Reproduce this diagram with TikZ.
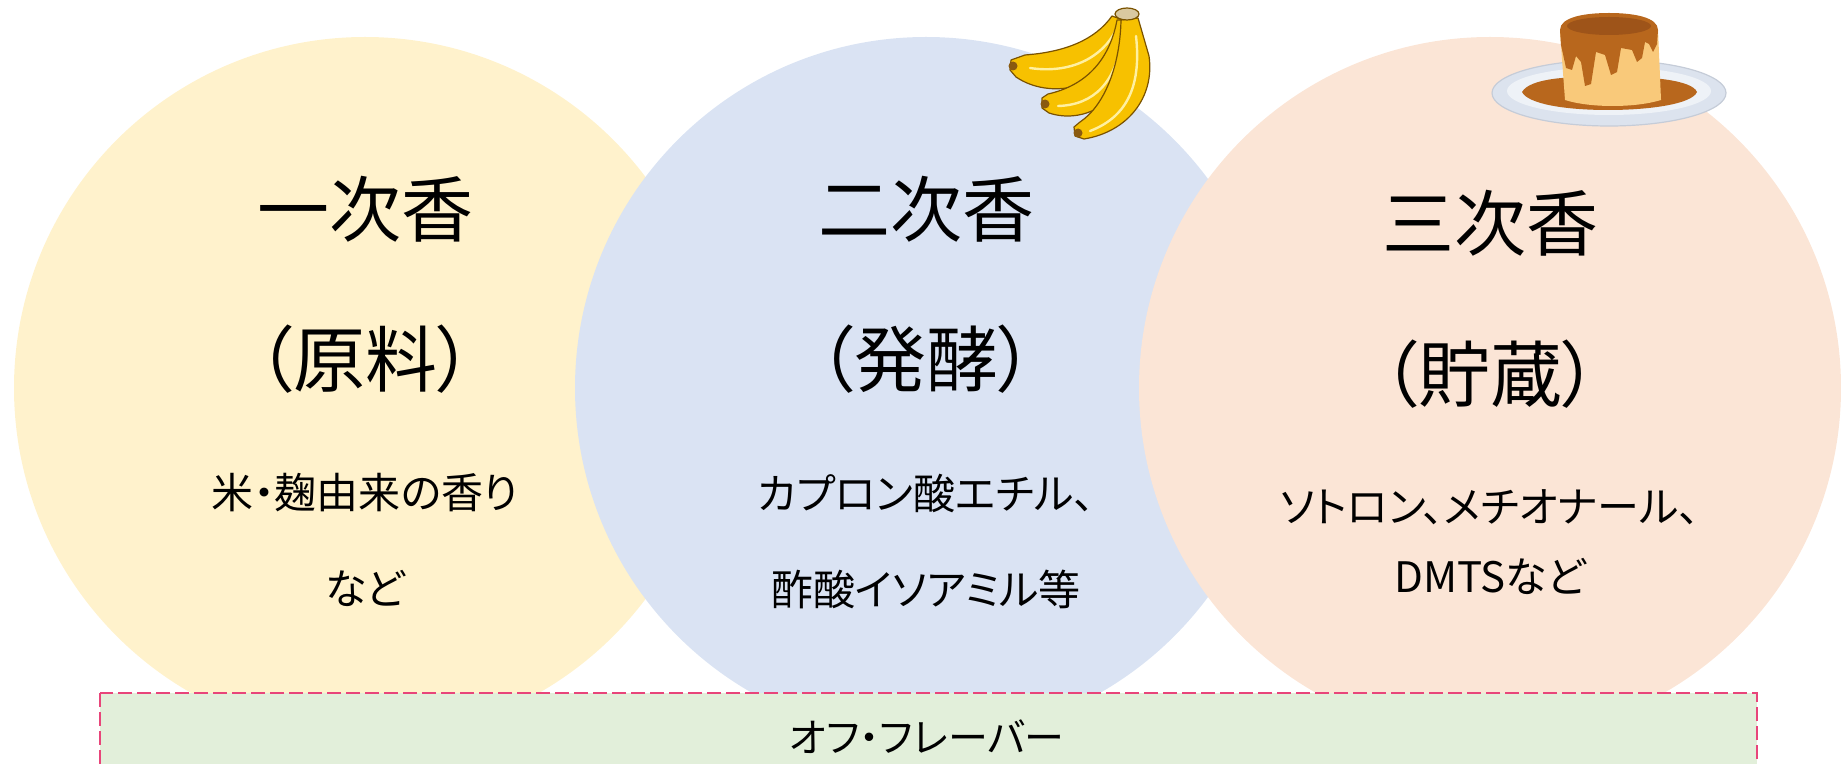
\documentclass[tikz,border=0pt]{standalone}
\usepackage{fontspec}
\newfontfamily\jp[RawFeature=+palt]{Noto Sans CJK JP}
\definecolor{cyellow}{HTML}{FFF2CC}
\definecolor{cblue}{HTML}{DAE3F3}
\definecolor{cpeach}{HTML}{FBE5D6}
\definecolor{cgreen}{HTML}{E2EFDA}
\definecolor{cpink}{HTML}{E8457A}
\definecolor{banfill}{HTML}{F7C100}
\definecolor{banline}{HTML}{7A5200}
\definecolor{banlight}{HTML}{FFF0A0}
\definecolor{bantip}{HTML}{8A5A10}
\definecolor{banstem}{HTML}{D9C8A0}
\definecolor{platefill}{HTML}{DCE3EE}
\definecolor{plateline}{HTML}{C5CCD8}
\definecolor{plateinner}{HTML}{EEF2F7}
\definecolor{caramel}{HTML}{B8671D}
\definecolor{caramdark}{HTML}{9E5419}
\definecolor{custard}{HTML}{F9C97A}
\begin{document}
\begin{tikzpicture}[x=0.5pt,y=-0.5pt,
  bubble/.style={circle,draw=none,inner sep=0pt,minimum size=351pt},
  titletext/.style={font=\jp\fontsize{36}{40}\selectfont,inner sep=0pt},
  bodytext/.style={font=\jp\fontsize{21}{25}\selectfont,inner sep=0pt},
  offtext/.style={font=\jp\fontsize{20}{24}\selectfont,inner sep=0pt},
  offbox/.style={draw=cpink,fill=cgreen,line width=1pt,dash pattern=on 7pt off 2.5pt},
  banana/.style={fill=banfill,draw=banline,line width=0.6pt,line join=round},
  banhl/.style={draw=banlight,line width=1.2pt,line cap=round}]
\path[use as bounding box] (0,0) rectangle (1841,764);
\clip (0,0) rectangle (1841,764);

% three aroma circles
\node[bubble,fill=cyellow] (c1) at (365,388) {};
\node[bubble,fill=cblue]   (c2) at (926,388) {};
\node[bubble,fill=cpeach]  (c3) at (1490,388) {};

% off-flavour band
\draw[offbox] (100,693) rectangle (1757,800);
\node[offtext] (off) at (927,737) {オフ・フレーバー};

% texts of the first circle
\node[titletext] (t1) at (365,209) {一次香};
\node[titletext] (p1) at (365,359) {（原料）};
\node[bodytext]  (a1) at (365,493) {米・麹由来の香り};
\node[bodytext]  (b1) at (365,588) {など};

% texts of the second circle
\node[titletext] (t2) at (926,209) {二次香};
\node[titletext] (p2) at (926,359) {（発酵）};
\node[bodytext]  (a2) at (926,493) {カプロン酸エチル、};
\node[bodytext]  (b2) at (926,589) {酢酸イソアミル等};

% texts of the third circle
\node[titletext] (t3) at (1490,223) {三次香};
\node[titletext] (p3) at (1490,374) {（貯蔵）};
\node[bodytext]  (a3) at (1490,507) {ソトロン、メチオナール、};
\node[bodytext]  (b3) at (1490,576) {DMTSなど};

% banana bunch
\path[banana] (1112,16) .. controls (1095,40) and (1065,52) .. (1025,55)
  -- (1011,60) -- (1010,70) -- (1016,77)
  .. controls (1050,100) and (1102,88) .. (1122,52) -- (1123,20) -- cycle;
\draw[banhl] (1030,68) .. controls (1070,74) and (1102,58) .. (1116,30);
\fill[bantip] (1013,66) circle (4.5);
\path[banana] (1117,20) .. controls (1110,58) and (1088,85) .. (1048,94)
  -- (1042,98) -- (1042,108) -- (1049,113)
  .. controls (1082,124) and (1120,104) .. (1128,67) -- (1128,20) -- cycle;
\draw[banhl] (1058,106) .. controls (1094,105) and (1117,82) .. (1122,36);
\fill[bantip] (1045,104) circle (4.5);
\path[banana] (1121,20) .. controls (1120,67) and (1104,106) .. (1080,122)
  -- (1074,127) -- (1075,136) -- (1084,139)
  .. controls (1127,132) and (1155,98) .. (1149,56) -- (1138,18) -- cycle;
\draw[banhl] (1090,131) .. controls (1124,118) and (1142,90) .. (1136,36);
\fill[bantip] (1078,133) circle (4.5);
\filldraw[fill=banstem,draw=banline,line width=0.6pt] (1127,14) ellipse (12 and 6);

% caramel pudding on a plate
\filldraw[fill=platefill,draw=plateline,line width=0.6pt] (1609,93) ellipse (117 and 33);
\fill[plateinner] (1609,91) ellipse (102 and 24);
\fill[caramel] (1522,92) .. controls (1530,78) and (1570,76) .. (1608,77)
  .. controls (1650,76) and (1692,80) .. (1697,92)
  .. controls (1692,104) and (1650,110) .. (1608,110)
  .. controls (1565,110) and (1528,104) .. (1522,92) -- cycle;
\fill[custard] (1560,32) -- (1565,100) .. controls (1590,108) and (1635,108) .. (1661,100)
  -- (1658,30) -- cycle;
\fill[caramel] (1560,30) .. controls (1560,17) and (1585,13) .. (1609,13)
  .. controls (1633,13) and (1658,17) .. (1658,30)
  -- (1657,44) -- (1653,52) -- (1649,44) -- (1645,42) -- (1642,58) -- (1637,62)
  -- (1632,50) -- (1621,48) -- (1617,72) -- (1611,75) -- (1605,55) -- (1596,52)
  -- (1591,84) -- (1585,86) -- (1581,62) -- (1576,56) -- (1572,70) -- (1566,68)
  -- (1561,45) -- cycle;
\fill[caramdark] (1609,26) ellipse (42 and 9);
\end{tikzpicture}
\end{document}
